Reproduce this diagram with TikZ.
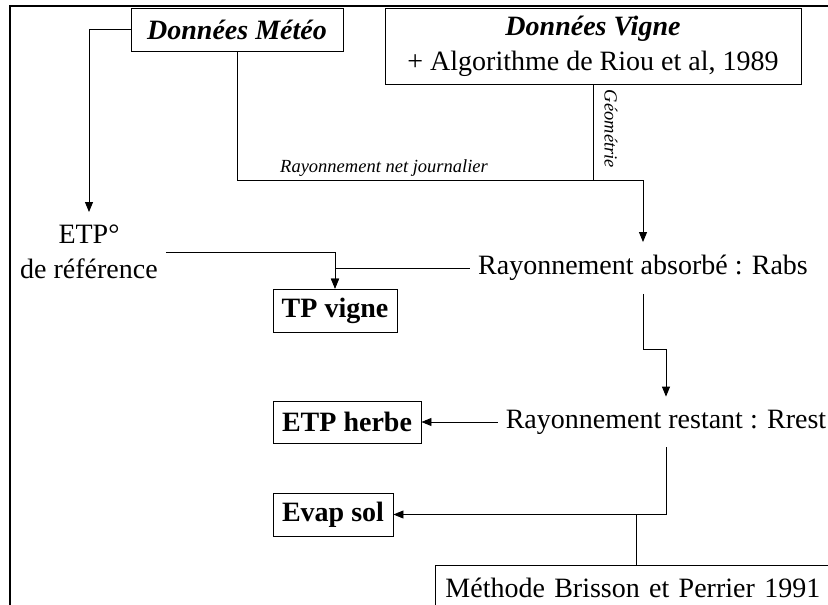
\documentclass[tikz,border=0pt]{standalone}
\usepackage{fontspec}
\setmainfont{Liberation Serif}
\usetikzlibrary{arrows.meta}
\begin{document}
\begin{tikzpicture}[x=1pt,y=-1pt,
  every node/.style={font=\fontsize{28}{35}\selectfont},
  box/.style={draw, line width=0.9pt, inner sep=0pt, font=\fontsize{28}{35}\selectfont\bfseries},
  bibox/.style={draw, line width=0.9pt, inner sep=0pt, font=\fontsize{28}{35}\selectfont\bfseries\itshape},
  txt/.style={inner xsep=8pt, inner ysep=13pt},
  lbl/.style={font=\fontsize{18.5}{22}\selectfont\itshape, inner sep=1pt},
  conn/.style={line width=0.9pt},
  arr/.style={line width=0.9pt, -{Triangle[length=10pt,width=8pt]}},
  frame/.style={line width=1.8pt}]
\useasboundingbox (0,0) rectangle (828,605);
\clip (0,0) rectangle (828,605);

\draw[frame] (10,610) -- (10,6) -- (830,6);

\node[bibox, minimum width=212pt, minimum height=43pt] (meteo) at (237,29.5) {Données Météo};
\node[draw, line width=0.9pt, minimum width=416pt, minimum height=76pt, align=center, inner sep=0pt] (vigne) at (593,46) {\bfseries\itshape Données Vigne\\+ Algorithme de Riou et al, 1989};
\node[txt, anchor=north, align=center] (etp) at (89,212) {ETP°\\de référence};
\node[txt] (rabs) at (643,268) {Rayonnement absorbé : Rabs};
\node[box, minimum width=124pt, minimum height=43pt] (tpv) at (335,310.5) {TP vigne};
\node[txt] (rrest) at (666,422) {Rayonnement restant : Rrest};
\node[box, minimum width=148pt, minimum height=42pt] (etph) at (347,422) {ETP herbe};
\node[box, minimum width=120pt, minimum height=43pt] (evap) at (333,514.5) {Evap sol};
\node[draw, line width=0.9pt, anchor=north west, text width=430pt, align=left, inner xsep=10pt, inner ysep=13pt] (meth) at (435,565) {Méthode Brisson et Perrier 1991};

\coordinate (jn) at (643,180);
\draw[conn] (meteo.south) |- (jn);
\draw[conn] (vigne.south) |- (jn);
\draw[arr] (jn) -- (rabs.north);
\node[lbl, anchor=south] (lnet) at (384,178) {Rayonnement net journalier};
\node[lbl, rotate=-90] (lgeo) at (611,129) {Géométrie};

\draw[arr] (meteo.west) -| (etp.north);
\draw[arr] (etp.east) -| (tpv.north);
\draw[arr] (rabs.west) -| (tpv.north);
\draw[arr] (rabs.south) -- ++(0,55) -| (rrest.north);
\draw[arr] (rrest.west) -- (etph.east);
\draw[arr] (rrest.south) |- (evap.east);
\coordinate (jm) at (636,514.5);
\draw[conn] (jm) -- (jm |- meth.north);
\end{tikzpicture}
\end{document}
